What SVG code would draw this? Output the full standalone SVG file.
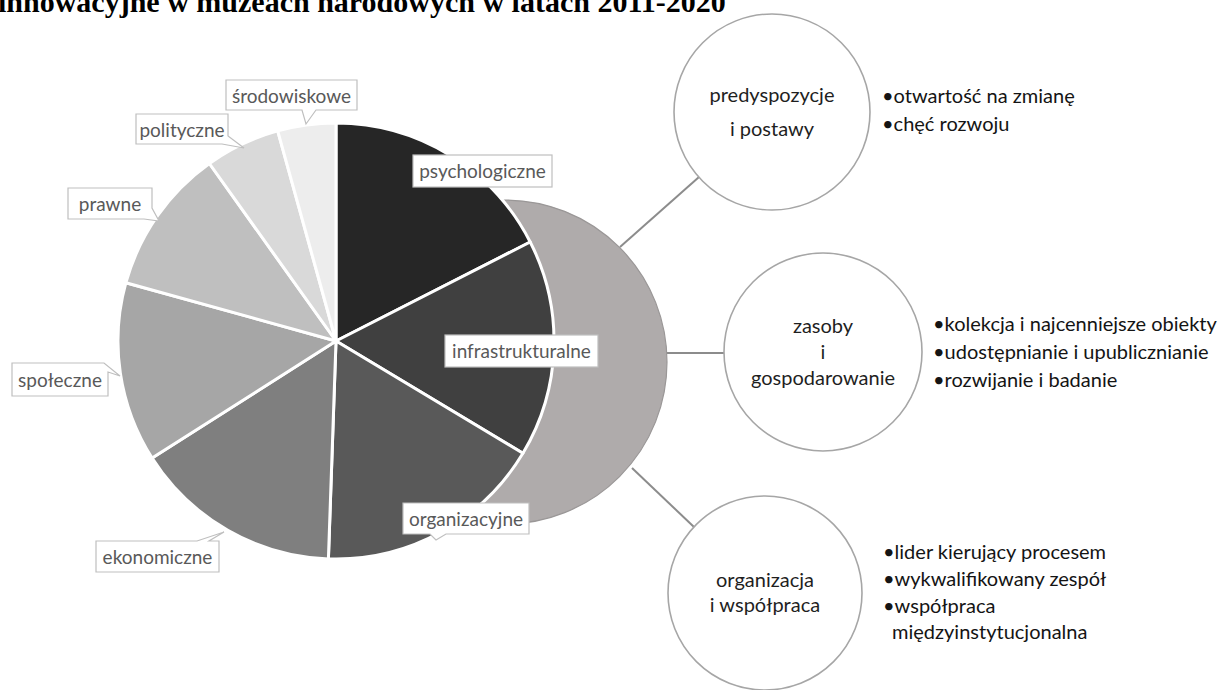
<svg xmlns="http://www.w3.org/2000/svg" width="1220" height="690" viewBox="0 0 1220 690">
<style>
.title{font-family:"Liberation Serif","Times New Roman",serif;font-weight:bold;font-size:30px;fill:#000}
.lbl{font-family:Lato,"Noto Sans",sans-serif;font-size:19px;fill:#595959;text-anchor:middle}
.box{fill:#fff;stroke:#bfbfbf;stroke-width:1.2}
.slice{stroke:#fff;stroke-width:3;stroke-linejoin:round}
.node{fill:#fff;stroke:#a6a6a6;stroke-width:1.6}
.ntxt{font-family:Lato,"Noto Sans",sans-serif;font-size:20px;fill:#1f1f1f;text-anchor:middle}
.btxt{font-family:Lato,"Noto Sans",sans-serif;font-size:20px;fill:#141414}
.conn{stroke:#8c8c8c;stroke-width:2;fill:none}
</style>
<rect width="1220" height="690" fill="#fff"/>
<text class="title" x="-2" y="12">innowacyjne w muzeach narodowych w latach 2011-2020</text>

<g id="connectors">
<line class="conn" x1="620" y1="247" x2="699" y2="177"/>
<line class="conn" x1="666" y1="353" x2="724" y2="353"/>
<line class="conn" x1="632" y1="468" x2="694" y2="527"/>
</g>

<g id="hub">
<circle cx="505" cy="362" r="162" fill="#afabab" stroke="#9a9797" stroke-width="1.2"/>
</g>

<g id="pie">
<path class="slice" fill="#262626" d="M336,341 L336,123 A218,218 0 0 1 530.2,242 Z"/>
<path class="slice" fill="#404040" d="M336,341 L530.2,242 A218,218 0 0 1 522.9,453.3 Z"/>
<path class="slice" fill="#595959" d="M336,341 L522.9,453.3 A218,218 0 0 1 328.4,558.9 Z"/>
<path class="slice" fill="#7f7f7f" d="M336,341 L328.4,558.9 A218,218 0 0 1 152.1,458.1 Z"/>
<path class="slice" fill="#a6a6a6" d="M336,341 L152.1,458.1 A218,218 0 0 1 125.9,282.7 Z"/>
<path class="slice" fill="#bfbfbf" d="M336,341 L125.9,282.7 A218,218 0 0 1 209.4,163.5 Z"/>
<path class="slice" fill="#d9d9d9" d="M336,341 L209.4,163.5 A218,218 0 0 1 277.7,130.9 Z"/>
<path class="slice" fill="#ededed" d="M336,341 L277.7,130.9 A218,218 0 0 1 336,123 Z"/>
</g>

<g id="label-psychologiczne">
<rect class="box" x="413" y="155" width="139" height="32"/>
<text class="lbl" x="482.5" y="178">psychologiczne</text>
</g>
<g id="label-infrastrukturalne">
<rect class="box" x="445" y="335" width="153" height="32"/>
<text class="lbl" x="521.5" y="358">infrastrukturalne</text>
</g>
<g id="label-organizacyjne">
<path class="box" d="M403,503 H529 V534 H446 L436,540 L430,534 H403 Z"/>
<text class="lbl" x="466" y="526">organizacyjne</text>
</g>
<g id="label-ekonomiczne">
<path class="box" d="M96,541 H197 L224,532 L209,541 H219 V572 H96 Z"/>
<text class="lbl" x="157.5" y="564">ekonomiczne</text>
</g>
<g id="label-spoleczne">
<path class="box" d="M12,363 H104 L120,376 L108,372 V396 H12 Z"/>
<text class="lbl" x="60" y="387">społeczne</text>
</g>
<g id="label-prawne">
<path class="box" d="M68,188 H152 V208 L159,221 L144,219 H68 Z"/>
<text class="lbl" x="110" y="211">prawne</text>
</g>
<g id="label-polityczne">
<path class="box" d="M136,114 H228 V136 L244,148 L222,144 H136 Z"/>
<text class="lbl" x="182" y="137">polityczne</text>
</g>
<g id="label-srodowiskowe">
<path class="box" d="M226,80 H357 V110 H316 L306,124 L302,110 H226 Z"/>
<text class="lbl" x="291.5" y="103">środowiskowe</text>
</g>

<g id="node-predyspozycje">
<circle class="node" cx="772" cy="112" r="98"/>
<text class="ntxt" x="772" y="102">predyspozycje</text>
<text class="ntxt" x="772" y="136">i postawy</text>
</g>
<g id="list-predyspozycje">
<text class="btxt" x="882" y="103">•otwartość na zmianę</text>
<text class="btxt" x="882" y="131">•chęć rozwoju</text>
</g>

<g id="node-zasoby">
<circle class="node" cx="823" cy="352" r="99"/>
<text class="ntxt" x="823" y="333">zasoby</text>
<text class="ntxt" x="823" y="359">i</text>
<text class="ntxt" x="823" y="385">gospodarowanie</text>
</g>
<g id="list-zasoby">
<text class="btxt" x="933" y="331">•kolekcja i najcenniejsze obiekty</text>
<text class="btxt" x="933" y="359">•udostępnianie i upublicznianie</text>
<text class="btxt" x="933" y="387">•rozwijanie i badanie</text>
</g>

<g id="node-organizacja">
<circle class="node" cx="765" cy="593" r="97"/>
<text class="ntxt" x="765" y="587">organizacja</text>
<text class="ntxt" x="765" y="612">i współpraca</text>
</g>
<g id="list-organizacja">
<text class="btxt" x="883" y="559">•lider kierujący procesem</text>
<text class="btxt" x="883" y="586">•wykwalifikowany zespół</text>
<text class="btxt" x="883" y="613">•współpraca</text>
<text class="btxt" x="892" y="639">międzyinstytucjonalna</text>
</g>
</svg>
